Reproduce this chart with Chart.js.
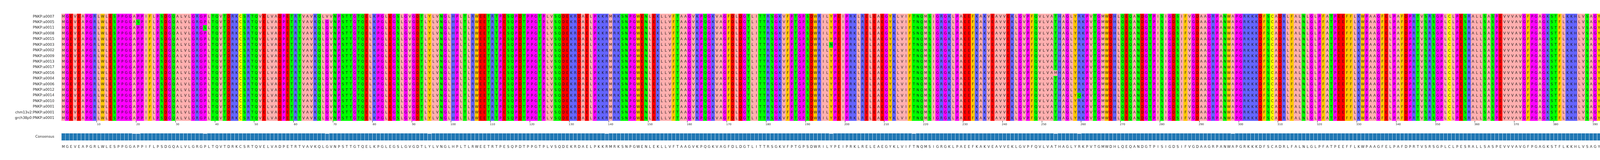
<!DOCTYPE html>
<html><head><meta charset="utf-8">
<script src="https://cdn.jsdelivr.net/npm/chart.js@4.4.1/dist/chart.umd.min.js"></script>
<style>html,body{margin:0;padding:0;background:#fff}body{width:5473px;height:409px;overflow:hidden;position:relative}
canvas{position:absolute;left:0;display:block}</style></head>
<body>
<canvas id="c1" width="5473" height="330" style="top:0;width:5473px;height:330px"></canvas>
<canvas id="c2" width="5473" height="60" style="top:325px;width:5473px;height:60px"></canvas>
<script>
const rowNames = ["PNKP:a0007","PNKP:a0005","PNKP:a0011","PNKP:a0008","PNKP:a0015","PNKP:a0003","PNKP:a0002","PNKP:a0009","PNKP:a0013","PNKP:a0017","PNKP:a0016","PNKP:a0004","PNKP:a0006","PNKP:a0012","PNKP:a0014","PNKP:a0010","PNKP:a0001","chm13v2:PNKP:a0001","grch38p0:PNKP:a0001"];
const refSeq = "MGEVEAPGRLWLESPPGGAPPIFLPSDGQALVLGRGPLTQVTDRKCSRTQVELVADPETRTVAVKQLGVNPSTTGTQELKPGLEGSLGVGDTLYLVNGLHPLTLRWEETRTPESQPDTPPGTPLVSQDEKRDAELPKKRMRKSNPGWENLEKLLVFTAAGVKPQGKVAGFDLDGTLITTRSGKVFPTGPSDWRILYPEIPRKLRELEAEGYKLVIFTNQMSIGRGKLPAEEFKAKVEAVVEKLGVPFQVLVATHAGLYRKPVTGMWDHLQEQANDGTPISIGDSIFVGDAAGRPANWAPGRKKKDFSCADRLFALNLGLPFATPEEFFLKWPAAGFELPAFDPRTVSRSGPLCLPESRALLSASPEVVVAVGFPGAGKSTFLKKHLVSAGYVHVNRDTLGSWQRCVTTCETALKQGKRVAIDNTNPDAASRARYVQCARAAGVPCRCFLFTATLEQARHNNRFREMTDSSHIPVSDMVMYGYRKQFEAPTLAEGFSAILEIPFRLWVEPRLGRLYCQFSEG";
// [row, position (1-based), residue]
const variants = [[0,68,"V"],[1,20,"S"],[2,37,"S"],[11,19,"V"],[4,94,"F"],[7,139,"H"],[3,217,"S"],[5,196,"N"],[10,253,"M"],[14,259,"Q"],[13,298,"V"],[9,429,"G"],[6,478,"G"],[8,441,"G"],[12,508,"K"],[15,449,"I"]];
const lengthLabels = ["521","521","521","521","521","521","521","521","521","521","521","521","521","521","521","521","521","521","521"];

const zappo = {I:"#ffafaf",L:"#ffafaf",V:"#ffafaf",A:"#ffafaf",M:"#ffafaf",F:"#ffc800",W:"#ffc800",Y:"#ffc800",K:"#6464ff",R:"#6464ff",H:"#6464ff",D:"#ff0000",E:"#ff0000",S:"#00ff00",T:"#00ff00",N:"#00ff00",Q:"#00ff00",P:"#ff00ff",G:"#ff00ff",C:"#ffff00"};
const seqs = rowNames.map(()=>refSeq.split(""));
variants.forEach(([r,p,a])=>{seqs[r][p-1]=a;});
const L = refSeq.length;
const positions = Array.from({length:L},(_,i)=>String(i+1));
const consensus=[], identity=[];
for(let i=0;i<L;i++){const c={};seqs.forEach(s=>c[s[i]]=(c[s[i]]||0)+1);let best=null;for(const k in c) if(best===null||c[k]>c[best]) best=k;consensus.push(best);identity.push(c[best]/seqs.length);}

const FONT="DejaVu Sans";
const LEFTW=157, RIGHTW=5473-157-Math.round(L*10.08);
const letters={id:'letters',afterDatasetsDraw(ch){const x=ch.scales.x,y=ch.scales.y,g=ch.ctx;g.save();g.font="9px "+FONT;g.fillStyle="#111";g.textAlign="center";g.textBaseline="middle";
 for(let r=0;r<seqs.length;r++){const py=y.getPixelForValue(r);for(let i=0;i<L;i++) g.fillText(seqs[r][i],x.getPixelForValue(i),py+0.5);} g.restore();}};

new Chart(document.getElementById('c1'),{type:'bar',
 data:{labels:positions,datasets:seqs.map((s,r)=>({data:s.map(()=>[r-0.5,r+0.5]),backgroundColor:s.map(a=>zappo[a]||"#fff"),borderWidth:0,barPercentage:1,categoryPercentage:1,grouped:false}))},
 options:{responsive:false,devicePixelRatio:1,animation:false,events:[],
  layout:{padding:{top:35,right:0,left:0,bottom:0}},
  plugins:{legend:{display:false},tooltip:{enabled:false}},
  scales:{
   x:{offset:true,grid:{drawOnChartArea:false,tickLength:4,color:c=>((c.index+1)%10===0?'#333':'rgba(0,0,0,0)')},border:{display:false},
      ticks:{autoSkip:false,maxRotation:0,padding:1,font:{family:FONT,size:7},color:'#222',callback:(v,i)=>((i+1)%10===0?String(i+1):'')},
      afterFit:s=>{s.height=21;}},
   y:{type:'linear',reverse:true,min:-0.5,max:18.5,grid:{display:false},border:{display:false},
      afterBuildTicks:s=>{s.ticks=rowNames.map((_,i)=>({value:i}));},
      ticks:{autoSkip:false,padding:10,font:{family:FONT,size:9},color:'#222',callback:v=>rowNames[v]},
      afterFit:s=>{s.width=LEFTW;}},
   y2:{type:'linear',position:'right',reverse:true,min:-0.5,max:18.5,grid:{display:false},border:{display:false},
      afterBuildTicks:s=>{s.ticks=lengthLabels.map((_,i)=>({value:i}));},
      ticks:{autoSkip:false,padding:10,font:{family:FONT,size:9},color:'#222',callback:v=>lengthLabels[v]},
      afterFit:s=>{s.width=RIGHTW;}}
  }},plugins:[letters]});

new Chart(document.getElementById('c2'),{type:'bar',
 data:{labels:consensus,datasets:[{data:identity,backgroundColor:identity.map(v=>v>=1?'#1f77b4':'#2b7db8'),borderColor:'#cfe0ee',borderWidth:{left:1,right:0,top:1,bottom:0},borderSkipped:false,barPercentage:1,categoryPercentage:1}]},
 options:{responsive:false,devicePixelRatio:1,animation:false,events:[],
  layout:{padding:{top:7,right:RIGHTW,left:0,bottom:0}},
  plugins:{legend:{display:false},tooltip:{enabled:false}},
  scales:{
   x:{offset:true,grid:{display:false},border:{display:false},
      ticks:{autoSkip:false,maxRotation:0,padding:3,font:{family:FONT,size:9},color:'#222'},
      afterFit:s=>{s.height=26;}},
   y:{min:0,max:1,grid:{display:false},border:{display:false},
      afterBuildTicks:s=>{s.ticks=[{value:0.5}];},
      ticks:{padding:10,font:{family:FONT,size:9},color:'#222',callback:()=>"Consensus"},
      afterFit:s=>{s.width=LEFTW;}}
  }}});
</script></body></html>
